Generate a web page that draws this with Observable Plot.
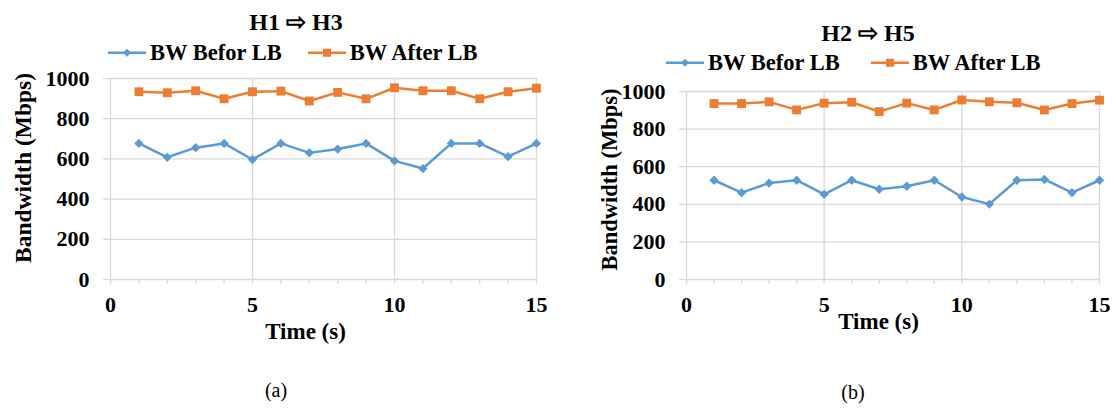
<!DOCTYPE html>
<html>
<head>
<meta charset="utf-8">
<script src="https://cdn.jsdelivr.net/npm/d3@7"></script>
<script src="https://cdn.jsdelivr.net/npm/@observablehq/plot@0.6"></script>
<style>
  body { margin: 0; background: #fff; }
  #page { position: relative; width: 1116px; height: 409px; overflow: hidden;
          font-family: "Liberation Serif", Tinos, "Times New Roman", serif; color: #000; }
  .abs { position: absolute; }
  .title { font-weight: bold; font-size: 24px; white-space: nowrap; transform: translate(-50%, -50%); line-height: 1; }
  .legend { display: flex; align-items: center; font-weight: bold; font-size: 22.5px; white-space: nowrap;
            transform: translateY(-50%); line-height: 1; }
  .legend .item { display: flex; align-items: center; }
  .legend svg { margin-right: 3px; }
  .caption { font-size: 20px; transform: translate(-50%, -50%); line-height: 1; }
</style>
</head>
<body>
<div id="page"></div>
<script>
// Time axis (seconds)
const time = [1, 2, 3, 4, 5, 6, 7, 8, 9, 10, 11, 12, 13, 14, 15];

// H1 -> H3 bandwidth (Mbps)
const h1h3Before = [677, 608, 656, 677, 597, 677, 630, 649, 677, 590, 552, 677, 677, 611, 677];
const h1h3After  = [934, 929, 939, 899, 934, 937, 888, 931, 899, 954, 939, 939, 899, 934, 952];

// H2 -> H5 bandwidth (Mbps)
const h2h5Before = [528, 462, 513, 528, 453, 528, 480, 496, 528, 439, 401, 528, 532, 462, 528];
const h2h5After  = [936, 936, 945, 902, 938, 943, 893, 938, 902, 955, 945, 940, 902, 936, 954];

// Axis ticks and labels
const xTicks = [0, 5, 10, 15];
const xMinorTicks = [0, 1, 2, 3, 4, 5, 6, 7, 8, 9, 10, 11, 12, 13, 14, 15];
const yTicks = [0, 200, 400, 600, 800, 1000];
const seriesNames = ["BW Befor LB", "BW After LB"];
const xLabel = "Time (s)";
const yLabel = "Bandwidth (Mbps)";

const blue = "#5B9BD5";
const orange = "#ED7D31";
const gridColor = "#d9d9d9";
const fontFamily = "'Liberation Serif', Tinos, 'Times New Roman', serif";

const page = document.getElementById("page");

function chart(o) {
  const {before, after, left, top, width, height, marginLeft, marginRight, marginTop, marginBottom} = o;
  const svg = Plot.plot({
    width, height, marginLeft, marginRight, marginTop, marginBottom,
    style: {fontFamily, fontSize: "22px", fontWeight: "bold", background: "transparent", color: "#000", overflow: "visible"},
    x: {domain: [0, 15]},
    y: {domain: [0, 1000]},
    marks: [
      Plot.gridY(yTicks, {stroke: gridColor, strokeOpacity: 1, strokeWidth: 1.3}),
      Plot.gridX(xTicks, {stroke: gridColor, strokeOpacity: 1, strokeWidth: 1.3}),
      Plot.axisY(yTicks, {tickSize: 7, tickPadding: 14, stroke: gridColor, strokeWidth: 1.3,
        tickFormat: d => String(d), label: null}),
      Plot.axisX(xMinorTicks, {tickSize: 5, stroke: gridColor, strokeWidth: 1.3,
        tickFormat: () => "", label: null}),
      Plot.axisX(xTicks, {tickSize: 0, tickPadding: 17, tickFormat: d => String(d), label: null}),
      // axis titles
      Plot.text([yLabel], {frameAnchor: "left", rotate: -90, dx: o.yLabelDx, dy: o.yLabelDy,
        textAnchor: "middle", lineAnchor: "middle", fontSize: o.yLabelSize, fontWeight: "bold"}),
      Plot.text([xLabel], {frameAnchor: "bottom", dx: o.xLabelDx, dy: o.xLabelDy,
        textAnchor: "middle", lineAnchor: "bottom", fontSize: 23, fontWeight: "bold"}),
      // series
      Plot.line(time, {x: time, y: before, stroke: blue, strokeWidth: 2.5}),
      Plot.dot(time, {x: time, y: before, symbol: "diamond2", r: 4.2, fill: blue, stroke: "none"}),
      Plot.line(time, {x: time, y: after, stroke: orange, strokeWidth: 2.5}),
      Plot.dot(time, {x: time, y: after, symbol: "square", r: 5, fill: orange, stroke: "none"})
    ]
  });
  svg.style.position = "absolute";
  svg.style.left = left + "px";
  svg.style.top = top + "px";
  page.appendChild(svg);
}

function legendSwatch(color, symbol) {
  const s = d3.create("svg").attr("width", 40).attr("height", 12);
  s.append("line").attr("x1", 1).attr("x2", 39).attr("y1", 6).attr("y2", 6)
    .attr("stroke", color).attr("stroke-width", 2.5);
  if (symbol === "square") {
    s.append("rect").attr("x", 16).attr("y", 2).attr("width", 8).attr("height", 8).attr("fill", color);
  } else {
    s.append("path").attr("d", "M20,2L24,6L20,10L16,6Z").attr("fill", color);
  }
  return s.node();
}

function addText(cls, text, x, y) {
  const d = document.createElement("div");
  d.className = "abs " + cls;
  d.style.left = x + "px";
  d.style.top = y + "px";
  d.textContent = text;
  page.appendChild(d);
}

function addLegend(x, y, gap) {
  const d = document.createElement("div");
  d.className = "abs legend";
  d.style.left = x + "px";
  d.style.top = y + "px";
  [[blue, "diamond"], [orange, "square"]].forEach(([c, sym], i) => {
    const item = document.createElement("div");
    item.className = "item";
    if (i > 0) item.style.marginLeft = gap + "px";
    item.appendChild(legendSwatch(c, sym));
    const t = document.createElement("span");
    t.textContent = seriesNames[i];
    item.appendChild(t);
    d.appendChild(item);
  });
  page.appendChild(d);
}

// (a) H1 -> H3
addText("title", "H1 ⇨ H3", 296, 22);
addLegend(107, 53, 25);
chart({before: h1h3Before, after: h1h3After, left: 0, top: 60, width: 560, height: 290,
  marginLeft: 110, marginRight: 24, marginTop: 18, marginBottom: 71,
  xLabelDx: -18, xLabelDy: 59, yLabelDx: -87, yLabelDy: -11, yLabelSize: 23.5});
addText("caption", "(a)", 276, 390);

// (b) H2 -> H5
addText("title", "H2 ⇨ H5", 868, 33);
addLegend(665, 63, 30);
chart({before: h2h5Before, after: h2h5After, left: 580, top: 70, width: 536, height: 270,
  marginLeft: 106, marginRight: 17, marginTop: 21, marginBottom: 61,
  xLabelDx: -14.5, xLabelDy: 49, yLabelDx: -77, yLabelDy: -6, yLabelSize: 22.5});
addText("caption", "(b)", 853, 392);
</script>
</body>
</html>
